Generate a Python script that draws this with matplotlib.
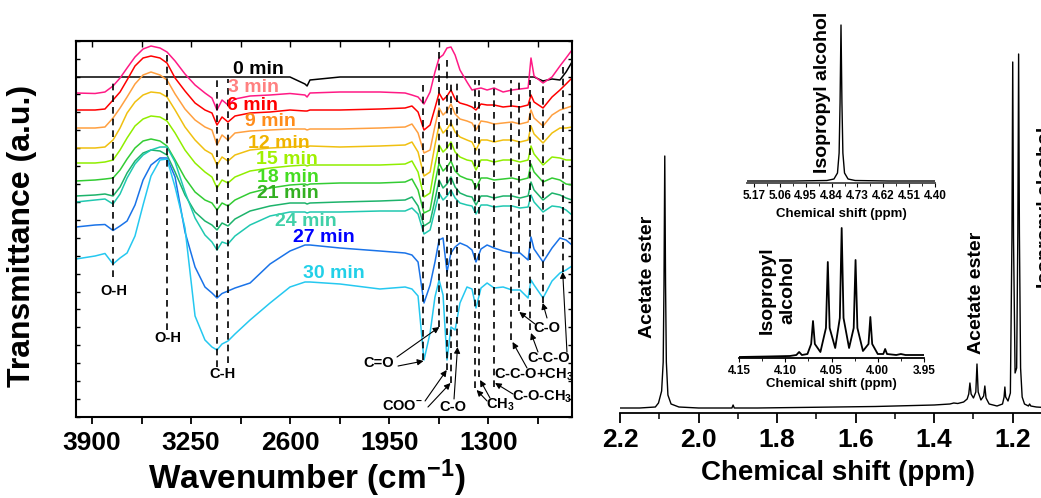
import matplotlib
matplotlib.use('Agg')
import matplotlib.pyplot as plt
from matplotlib.ticker import FixedLocator, MultipleLocator

plt.rcParams['font.family'] = ['Liberation Sans', 'DejaVu Sans']
plt.rcParams['font.weight'] = 'bold'
plt.rcParams['mathtext.fontset'] = 'custom'
plt.rcParams['mathtext.rm'] = 'Liberation Sans:bold'
plt.rcParams['mathtext.it'] = 'Liberation Sans:bold'
plt.rcParams['mathtext.bf'] = 'Liberation Sans:bold'

# ---------------- FTIR data (offset spectra, a.u.) ----------------
wavenumber = [4005, 3880, 3815, 3762, 3716, 3670, 3618, 3565, 3513, 3454,
              3408, 3355, 3290, 3224, 3159, 3113, 3080, 3047, 3008, 2962,
              2863, 2732, 2601, 2503, 2489, 2470, 2273, 2011, 1846, 1801,
              1761, 1722, 1682, 1650, 1623, 1597, 1571, 1545, 1518, 1486,
              1440, 1407, 1381, 1348, 1308, 1262, 1203, 1144, 1092, 1039,
              1020, 1000, 941, 882, 830, 790, 751]

ir_0min = [340, 340, 340, 340, 340, 340, 340, 340, 340, 340,
           340, 340, 340, 340, 340, 340, 340, 340, 340, 340,
           340, 340, 340, 333, 331, 337, 340, 340, 340, 340,
           340, 340, 340, 340, 340, 340, 340, 340, 340, 340,
           340, 340, 340, 340, 340, 340, 340, 340, 340, 340,
           340, 340, 336, 338, 337, 345, 355]
ir_3min = [324, 323.5, 325, 331, 339, 349, 360, 368, 371, 369,
           365, 356, 343, 332, 324, 319, 307, 317, 312, 318,
           321, 322, 323.5, 322, 320, 324, 325, 325, 324, 322,
           320, 313, 325, 345, 359, 362, 369, 370, 362, 347,
           335, 327, 328, 329, 327, 329, 325, 327, 328, 329,
           359, 341, 334, 340, 351, 359, 367]
ir_6min = [307, 307, 308, 317, 325, 337, 351, 359, 361, 359,
           354, 339, 326, 314, 307, 304, 292, 300, 295, 301,
           304, 305, 307, 306, 306, 307, 307, 308, 309, 311,
           305, 287, 292, 309, 324, 317, 321, 327, 318, 314,
           312, 310, 307, 313, 312, 312, 310, 311, 310, 312,
           322, 315, 309, 320, 327, 333, 339]
ir_9min = [289, 289, 290, 299, 309, 320, 333, 342, 345, 342,
           337, 323, 308, 297, 290, 287, 272, 282, 277, 284,
           286, 287, 288, 288, 287, 288, 288, 289, 290, 293,
           284, 264, 267, 291, 309, 302, 306, 313, 303, 298,
           296, 294, 287, 296, 295, 293, 294, 295, 293, 295,
           307, 299, 291, 302, 307, 309, 311]
ir_12min = [269, 269, 270, 277, 289, 304, 315, 322, 325, 324,
            320, 307, 290, 277, 267, 263, 252, 260, 256, 262,
            267, 269, 270, 271, 270, 271, 270, 271, 272, 275,
            265, 241, 245, 272, 292, 284, 288, 294, 285, 280,
            277, 275, 267, 277, 277, 275, 277, 277, 275, 277,
            291, 283, 274, 284, 289, 289, 290]
ir_15min = [254, 254, 255, 257, 267, 279, 291, 298, 301, 300,
            296, 284, 267, 254, 245, 240, 229, 237, 234, 240,
            246, 249, 251, 252, 251, 252, 252, 252, 253, 256,
            245, 220, 224, 252, 272, 265, 269, 275, 265, 260,
            257, 256, 247, 257, 257, 255, 257, 257, 255, 257,
            271, 263, 252, 260, 259, 257, 257]
ir_18min = [236, 237, 238, 239, 247, 258, 269, 276, 278, 276,
            271, 257, 239, 225, 217, 214, 207, 214, 211, 217,
            224, 229, 232, 233, 232, 233, 234, 234, 235, 238,
            227, 204, 207, 234, 254, 246, 250, 256, 246, 241,
            238, 237, 229, 239, 239, 237, 238, 239, 237, 239,
            253, 245, 235, 239, 237, 233, 232]
ir_21min = [221, 222, 223, 221, 230, 244, 256, 264, 267, 266,
            262, 245, 222, 205, 196, 192, 187, 194, 191, 198,
            206, 211, 214, 214, 213, 214, 215, 216, 217, 220,
            211, 191, 195, 217, 237, 229, 233, 240, 230, 224,
            221, 220, 212, 221, 221, 219, 221, 221, 219, 221,
            235, 227, 217, 224, 222, 219, 217]
ir_24min = [215, 217, 218, 213, 223, 239, 253, 262, 267, 270,
            270, 255, 225, 199, 182, 175, 167, 175, 173, 181,
            192, 201, 205, 205, 204, 205, 205, 206, 206, 209,
            203, 183, 187, 207, 224, 217, 221, 227, 219, 214,
            212, 211, 203, 212, 212, 210, 211, 211, 209, 210,
            222, 215, 205, 211, 210, 207, 202]
ir_27min = [190, 192, 192.5, 186.5, 191, 196, 212, 237, 252, 259,
            259, 240, 185, 150, 130, 124, 119, 123.5, 126, 129,
            134, 153, 166, 172, 172, 172, 169, 166, 164, 162,
            155, 114, 132, 155, 177, 179, 145, 164, 170, 174,
            171, 167, 155, 168, 172, 169, 166, 164, 164, 157,
            180, 168, 155, 169, 179, 177, 172]
ir_30min = [158, 161, 163.5, 153, 159, 164, 181, 212, 241, 257,
            258, 230, 189, 101, 77, 70, 67, 73, 76, 83,
            97, 114, 130, 135, 135, 135, 133, 128, 130, 128,
            121, 57, 84, 120, 137, 122, 57, 90, 87, 114,
            130, 128, 109, 129, 134, 129, 130, 127, 127, 119,
            137, 132, 119, 136, 144, 147, 151]

time_labels = ['0 min', '3 min', '6 min', '9 min', '12 min', '15 min',
               '18 min', '21 min', '24 min', '27 min', '30 min']
line_colors = ['#000000', '#FF1A85', '#FF0000', '#FFA040', '#F0C010', '#90EE00',
               '#33CC33', '#1DB36B', '#20C8B0', '#1A73E8', '#25C8F0']
label_colors = ['#000000', '#FF8080', '#FF0000', '#FF8C1A', '#F0B400', '#A0F000',
                '#44DD22', '#33B022', '#40D0A8', '#0000FF', '#22D0E8']
label_wn = [2975, 3008, 3014, 2896, 2877, 2824, 2817, 2817, 2699, 2581, 2516]
label_y = [348, 330, 312, 295, 274, 257, 240, 223, 196, 179, 144]

# band markers: position, top, bottom
band_wn = [3760, 3406, 3082, 3010, 1726, 1621, 1573, 1547, 1503, 1385, 1359,
           1261, 1149, 1100, 1026, 944, 812]
band_top = [337, 367, 338, 338, 337, 367, 357, 337, 337, 337, 337,
            337, 337, 337, 337, 337, 354]
band_bot = [140, 87, 50, 54, 57, 90, 47, 34, 70, 29, 40,
            30, 77, 106, 87, 114, 145]

band_text = ['O-H', 'O-H', 'C-H', 'C=O', 'COO$^{-}$', 'C-O', 'CH$_3$',
             'C-O-CH$_3$', 'C-C-O+CH$_3$', 'C-C-O', 'C-O']
band_text_x = [3756, 3401, 3047, 2017, 1860, 1535, 1223, 948, 1000, 902, 915]
band_text_y = [126, 79, 43, 54, 11, 10, 12, 20, 42, 59, 89]

arrow_from = [(1899, 60), (1892, 51), (1715, 16), (1696, 10), (1525, 18),
              (1308, 16), (1289, 19), (1138, 23), (1046, 49), (974, 65),
              (784, 65), (915, 99), (994, 93)]
arrow_to = [(1621, 90), (1725, 56), (1573, 47), (1548, 34), (1502, 70),
            (1377, 27), (1354, 37), (1256, 34), (1141, 75), (1020, 84),
            (812, 145), (943, 114), (1097, 105)]

# ---------------- 1H NMR data ----------------
nmr_ppm = [2.200, 2.150, 2.110, 2.102, 2.098, 2.094, 2.090, 2.088, 2.086, 2.084,
           2.082, 2.078, 2.070, 2.050, 2.000, 1.950, 1.915, 1.912, 1.909, 1.850,
           1.750, 1.650, 1.550, 1.450, 1.400, 1.360, 1.350, 1.340, 1.325, 1.316,
           1.312, 1.309, 1.306, 1.300, 1.294, 1.291, 1.288, 1.281, 1.274, 1.271,
           1.268, 1.260, 1.240, 1.226, 1.222, 1.220, 1.218, 1.212, 1.206, 1.202,
           1.200, 1.198, 1.194, 1.190, 1.187, 1.185, 1.183, 1.180, 1.176, 1.170,
           1.160, 1.157, 1.154, 1.140, 1.100]
nmr_int = [5, 5, 6, 10, 16, 22, 51, 128, 257, 128,
           51, 18, 9, 6, 5, 5, 5, 8, 5, 5,
           5.5, 6, 6.5, 7.5, 8, 9, 10, 9.5, 11, 14,
           19, 30, 19, 15, 21, 49, 21, 13, 17, 27,
           15, 9, 7, 9, 16, 26, 16, 12, 20, 175,
           351, 175, 40, 45, 180, 359, 180, 45, 16, 9,
           7, 9, 7, 6, 5]

ins1_ppm = [5.20, 5.00, 4.86, 4.83, 4.815, 4.808, 4.804, 4.800, 4.796, 4.792,
            4.785, 4.77, 4.74, 4.60, 4.40]
ins1_int = [2, 2, 2.5, 4, 10, 30, 80, 158, 80, 30,
            10, 4, 2.5, 2, 2]

ins2_ppm = [4.150, 4.120, 4.095, 4.088, 4.085, 4.082, 4.076, 4.072, 4.070, 4.068,
            4.062, 4.056, 4.054, 4.052, 4.046, 4.041, 4.039, 4.037, 4.031, 4.026,
            4.024, 4.022, 4.016, 4.010, 4.008, 4.006, 4.000, 3.994, 3.992, 3.990,
            3.980, 3.975, 3.970, 3.950]
ins2_int = [1, 1.5, 2, 3, 6, 3, 4, 14, 37, 14,
            6, 30, 96, 30, 10, 40, 130, 40, 10, 30,
            98, 30, 7, 14, 41, 14, 4, 4, 9, 4,
            3, 4, 3, 3]

W, H = 1041, 498
fig = plt.figure(figsize=(W / 100, H / 100), dpi=100)

# ---------------- left: FTIR ----------------
ax = fig.add_axes([75.7 / W, 81 / H, 496.6 / W, 376.3 / H])
spectra = [ir_0min, ir_3min, ir_6min, ir_9min, ir_12min, ir_15min,
           ir_18min, ir_21min, ir_24min, ir_27min, ir_30min]
for s, c in zip(spectra, line_colors):
    ax.plot(wavenumber, s, color=c, lw=1.1)
for t, x, y, c in zip(time_labels, label_wn, label_y, label_colors):
    ax.text(x, y, t, color=c, fontsize=14, fontweight='bold', ha='left', va='center')

ax.vlines(band_wn, band_bot, band_top, colors='k', linestyles=(0, (4, 3)), lw=1.2)
for t, x, y in zip(band_text, band_text_x, band_text_y):
    ax.text(x, y, t, fontsize=10.5, fontweight='bold', ha='center', va='center')
for p0, p1 in zip(arrow_from, arrow_to):
    ax.annotate('', xy=p1, xytext=p0,
                arrowprops=dict(arrowstyle='-|>', color='k', lw=0.8,
                                mutation_scale=9, shrinkA=0, shrinkB=0))

ax.set_xlim(4007, 749)
ax.set_ylim(0, 376.3)
ax.xaxis.set_major_locator(FixedLocator([3900, 3250, 2600, 1950, 1300]))
ax.xaxis.set_minor_locator(FixedLocator([3575, 2925, 2275, 1625, 975]))
ax.yaxis.set_major_locator(MultipleLocator(376.3 / 21))
ax.tick_params(axis='x', which='both', direction='out', length=5, width=1.3,
               labelsize=19, pad=5)
ax.tick_params(axis='y', which='both', direction='in', length=3, width=1,
               left=True, right=True, labelleft=False)
top = ax.secondary_xaxis('top')
top.xaxis.set_major_locator(FixedLocator([3900, 3250, 2600, 1950, 1300]))
top.xaxis.set_minor_locator(FixedLocator([3575, 2925, 2275, 1625, 975]))
top.tick_params(axis='x', which='both', direction='in', length=4, width=1,
                labeltop=False)
top.spines['top'].set_linewidth(1.5)
for sp in ax.spines.values():
    sp.set_linewidth(1.5)
for lab in ax.get_xticklabels():
    lab.set_fontweight('bold')
ax.set_xlabel('Wavenumber (cm$^{-1}$)', fontsize=24, fontweight='bold')
ax.xaxis.set_label_coords(0.466, -0.108)
ax.xaxis.label.set_va('top')
ax.set_ylabel('Transmittance (a.u.)', fontsize=23, fontweight='bold')
ax.yaxis.set_label_coords(-0.078, 0.48)

# ---------------- right: 1H NMR ----------------
ax2 = fig.add_axes([620 / W, 85 / H, 432 / W, 373 / H])
ax2.plot(nmr_ppm, nmr_int, color='k', lw=1.0)
ax2.set_xlim(2.2, 1.10)
ax2.set_ylim(0, 373)
ax2.set_yticks([])
for k in ['top', 'left', 'right']:
    ax2.spines[k].set_visible(False)
ax2.spines['bottom'].set_linewidth(1.3)
ax2.xaxis.set_major_locator(FixedLocator([2.2, 2.0, 1.8, 1.6, 1.4, 1.2]))
ax2.xaxis.set_minor_locator(MultipleLocator(0.1))
ax2.xaxis.set_major_formatter(plt.FormatStrFormatter('%.1f'))
ax2.tick_params(axis='x', which='major', direction='out', length=7, width=1.3,
                labelsize=19, pad=4)
ax2.tick_params(axis='x', which='minor', direction='out', length=4, width=1.1)
for lab in ax2.get_xticklabels():
    lab.set_fontweight('bold')
ax2.set_xlabel('Chemical shift (ppm)', fontsize=20, fontweight='bold')
ax2.xaxis.set_label_coords(0.505, -0.126)
ax2.xaxis.label.set_va('top')
ax2.text(2.131, 136, 'Acetate ester', rotation=90, fontsize=14, fontweight='bold',
         ha='center', va='center')
ax2.text(1.292, 120, 'Acetate ester', rotation=90, fontsize=14, fontweight='bold',
         ha='center', va='center')
ax2.text(1.116, 206, 'Isopropyl alcohol', rotation=90, fontsize=14, fontweight='bold',
         ha='center', va='center')

# inset: 4.4-5.2 ppm
ins1 = fig.add_axes([747 / W, (H - 183) / H, 188 / W, 168 / H])
ins1.patch.set_alpha(0)
ins1.plot(ins1_ppm, ins1_int, color='k', lw=1.0)
ins1.set_xlim(5.20, 4.40)
ins1.set_ylim(0, 168)
ins1.set_yticks([])
for k in ['top', 'left', 'right']:
    ins1.spines[k].set_visible(False)
ins1.spines['bottom'].set_linewidth(1.3)
ins1.spines['bottom'].set_color('#444444')
ins1.xaxis.set_major_locator(FixedLocator([5.17, 5.06, 4.95, 4.84, 4.73, 4.62, 4.51, 4.40]))
ins1.xaxis.set_minor_locator(FixedLocator([5.115, 5.005, 4.895, 4.785, 4.675, 4.565, 4.455]))
ins1.xaxis.set_major_formatter(plt.FormatStrFormatter('%.2f'))
ins1.tick_params(axis='x', which='major', direction='out', length=3, width=0.8,
                 labelsize=8.5, pad=2)
ins1.tick_params(axis='x', which='minor', direction='out', length=2, width=0.6)
for lab in ins1.get_xticklabels():
    lab.set_fontweight('bold')
ins1.set_xlabel('Chemical shift (ppm)', fontsize=9.5, fontweight='bold', labelpad=4)
ins1.text(4.878, 91, 'Isopropyl alcohol', rotation=90, fontsize=14, fontweight='bold',
          ha='center', va='center')

# inset: 3.95-4.15 ppm
ins2 = fig.add_axes([739 / W, (H - 358) / H, 185 / W, 138 / H])
ins2.patch.set_alpha(0)
ins2.plot(ins2_ppm, ins2_int, color='k', lw=1.3)
ins2.set_xlim(4.15, 3.95)
ins2.set_ylim(0, 138)
ins2.set_yticks([])
for k in ['top', 'left', 'right']:
    ins2.spines[k].set_visible(False)
ins2.spines['bottom'].set_linewidth(1.3)
ins2.xaxis.set_major_locator(FixedLocator([4.15, 4.10, 4.05, 4.00, 3.95]))
ins2.xaxis.set_minor_locator(MultipleLocator(0.025))
ins2.xaxis.set_major_formatter(plt.FormatStrFormatter('%.2f'))
ins2.tick_params(axis='x', which='major', direction='out', length=3, width=0.8,
                 labelsize=8.5, pad=2)
ins2.tick_params(axis='x', which='minor', direction='out', length=2, width=0.6)
for lab in ins2.get_xticklabels():
    lab.set_fontweight('bold')
ins2.set_xlabel('Chemical shift (ppm)', fontsize=9.5, fontweight='bold', labelpad=1)
ins2.text(4.108, 68, 'Isopropyl\nalcohol', rotation=90, fontsize=14, fontweight='bold',
          ha='center', va='center', multialignment='center', linespacing=1.25)

fig.savefig('out.png', dpi=100)
